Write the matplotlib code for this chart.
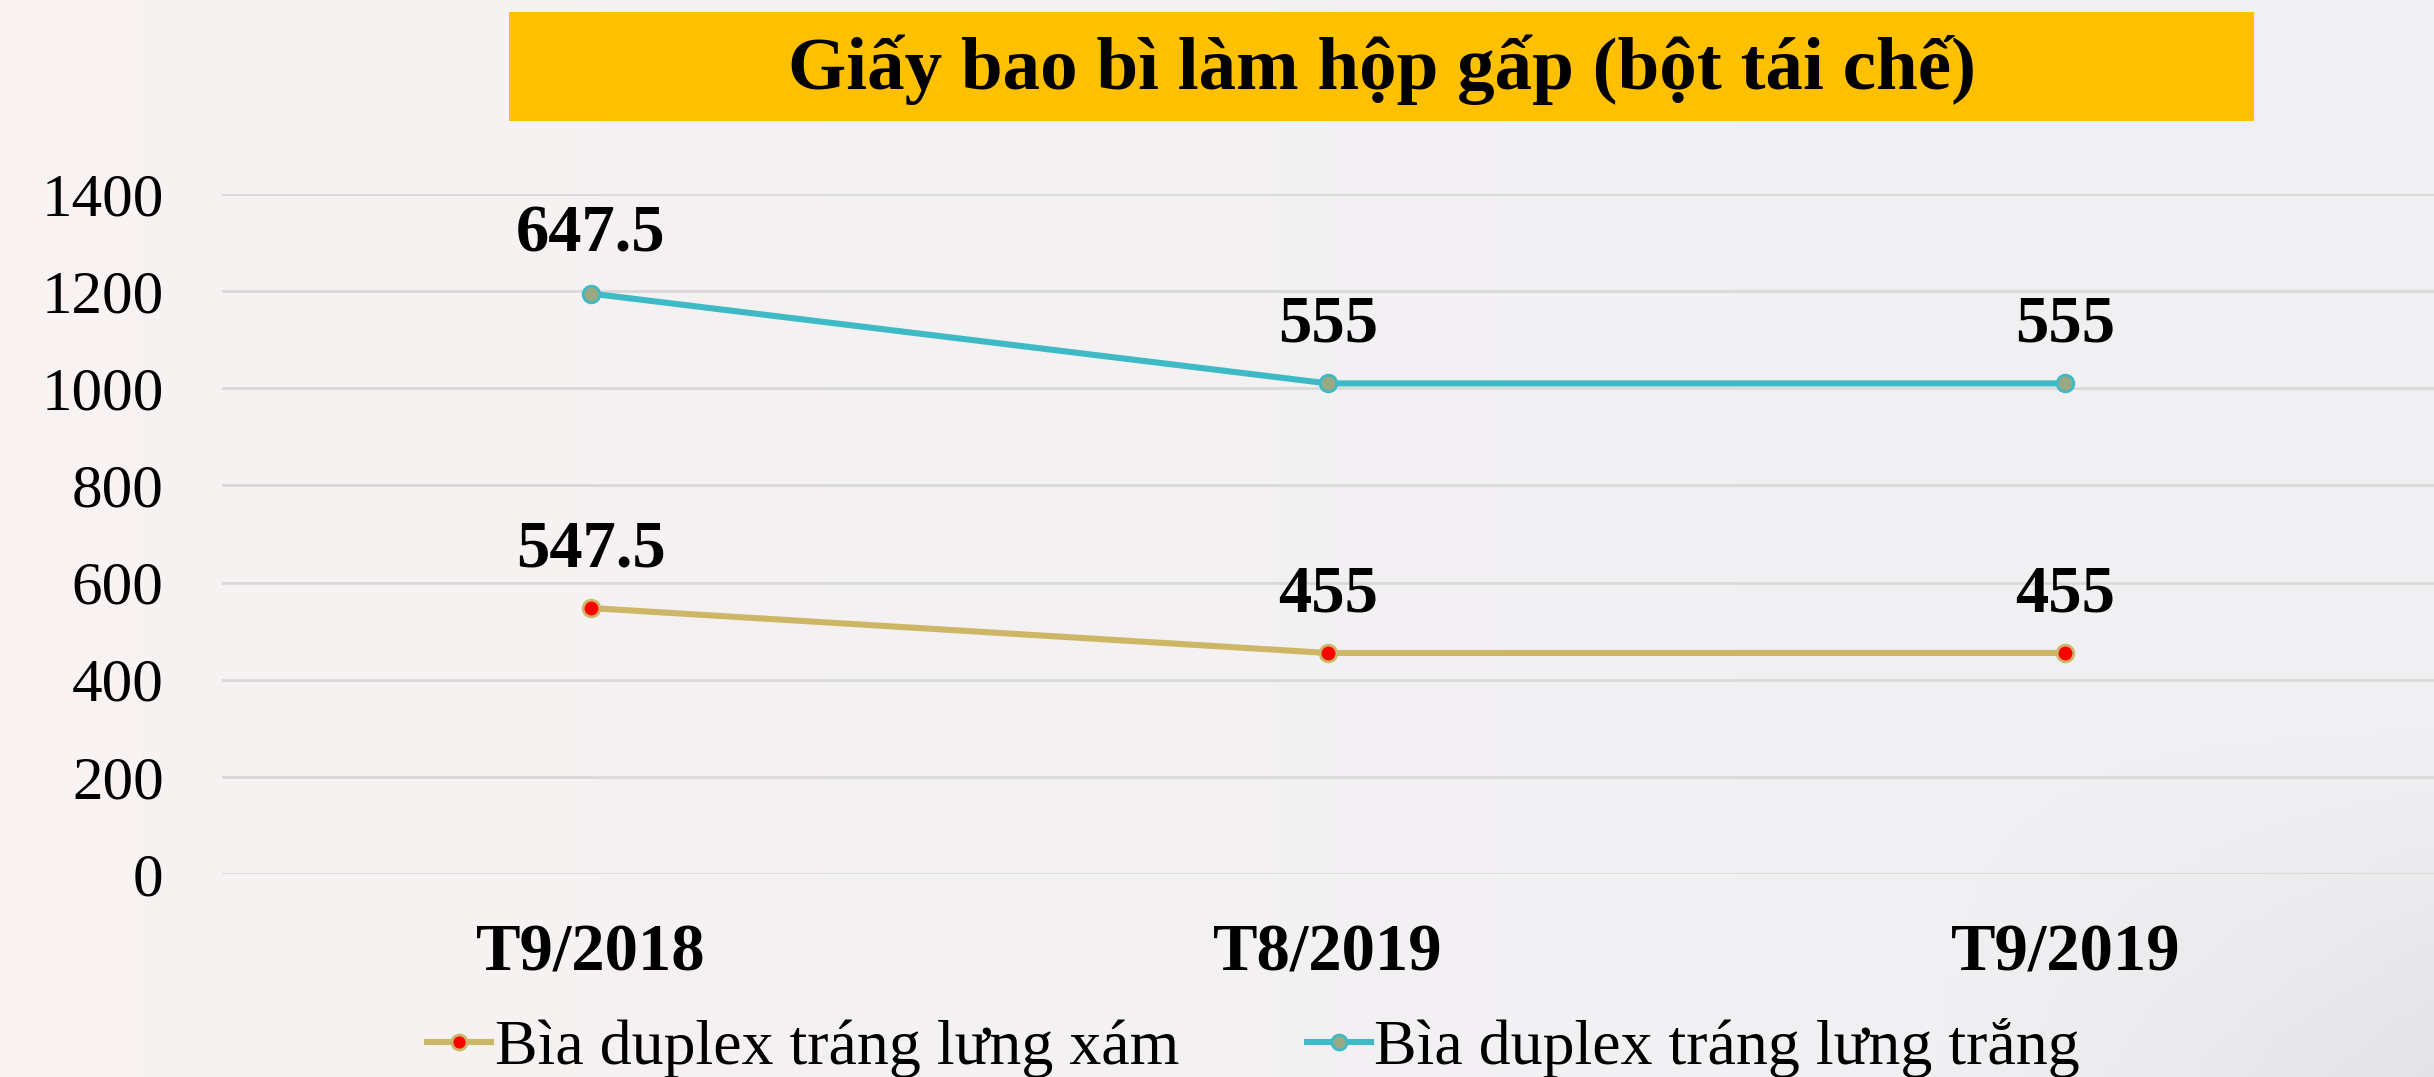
import numpy as np
import matplotlib
matplotlib.use('Agg')
import matplotlib.pyplot as plt
from matplotlib.patches import Rectangle

plt.rcParams['font.family'] = ['Liberation Serif', 'DejaVu Serif']

title = 'Giấy bao bì làm hộp gấp (bột tái chế)'
months = ['T9/2018', 'T8/2019', 'T9/2019']
xam = [547.5, 455, 455]          # Bìa duplex tráng lưng xám
trang = [647.5, 555, 555]        # Bìa duplex tráng lưng trắng
names = ['Bìa duplex tráng lưng xám', 'Bìa duplex tráng lưng trắng']
yticks = [0, 200, 400, 600, 800, 1000, 1200, 1400]

# chart is stacked: second line sits on top of the first
stacked = np.array(xam) + np.array(trang)

fig = plt.figure(figsize=(24.34, 10.77), dpi=100)

# soft background gradient (pinkish white on the left, grey toward bottom right)
bg = fig.add_axes([0, 0, 1, 1], zorder=-10)
gx = np.linspace(0, 1, 240)
gy = np.linspace(0, 1, 120)
X, Y = np.meshgrid(gx, gy)   # Y=0 bottom
left = np.array([0.975, 0.952, 0.952])
right = np.array([0.945, 0.943, 0.952])
w = np.clip(X * 1.4, 0, 1)[..., None]
img = left * (1 - w) + right * w
corner = np.clip((X - 0.78) * 4.5, 0, 1) * np.clip((0.35 - Y) * 2.8, 0, 1)
img = img - 0.05 * corner[..., None]
img = np.clip(img, 0, 1)
bg.imshow(img, aspect='auto', extent=[0, 1, 0, 1], origin='lower')
bg.axis('off')

ax = fig.add_axes([0.0912, 0.1885, 0.9088, 0.6314])
ax.patch.set_alpha(0)

x = np.arange(len(months))
ax.plot(x, xam, color='#cdb766', lw=4.4, marker='o', ms=12,
        mfc='#ff0000', mec='#cdb766', mew=2, label=names[0], zorder=3)
ax.plot(x, stacked, color='#3dbac6', lw=4.4, marker='o', ms=12,
        mfc='#99a983', mec='#3dbac6', mew=2, label=names[1], zorder=3)

for i in range(len(months)):
    ax.annotate('{:g}'.format(xam[i]), (x[i], xam[i]), xytext=(0, 20),
                textcoords='offset points', ha='center', va='bottom',
                fontsize=48, fontweight='bold')
    ax.annotate('{:g}'.format(trang[i]), (x[i], stacked[i]), xytext=(0, 20),
                textcoords='offset points', ha='center', va='bottom',
                fontsize=48, fontweight='bold')

ax.set_xlim(-0.5, 2.5)
ax.set_ylim(0, 1400)
ax.set_yticks(yticks)
ax.set_yticklabels([str(v) for v in yticks], fontsize=44)
ax.set_xticks(x)
ax.set_xticklabels(months, fontsize=48, fontweight='bold')
ax.tick_params(axis='y', length=0, pad=42)
ax.tick_params(axis='x', length=0, pad=36)
ax.grid(axis='y', color='#d9d9d9', lw=2)
ax.set_axisbelow(True)
for s in ax.spines.values():
    s.set_visible(False)

# title box
fig.patches.append(Rectangle((0.2091, 0.8877), 0.717, 0.1012, transform=fig.transFigure,
                             facecolor='#ffc000', edgecolor='none', zorder=1))
fig.text(0.5676, 0.935, title, ha='center', va='center', fontsize=54,
         fontweight='bold', zorder=2)

fig.legend(loc='center', bbox_to_anchor=(0.515, 0.027), ncol=2, frameon=False,
           fontsize=46, handlelength=1.0, handletextpad=0.05, columnspacing=2.0,
           markerscale=0.9)

fig.savefig('out.png', dpi=100)
